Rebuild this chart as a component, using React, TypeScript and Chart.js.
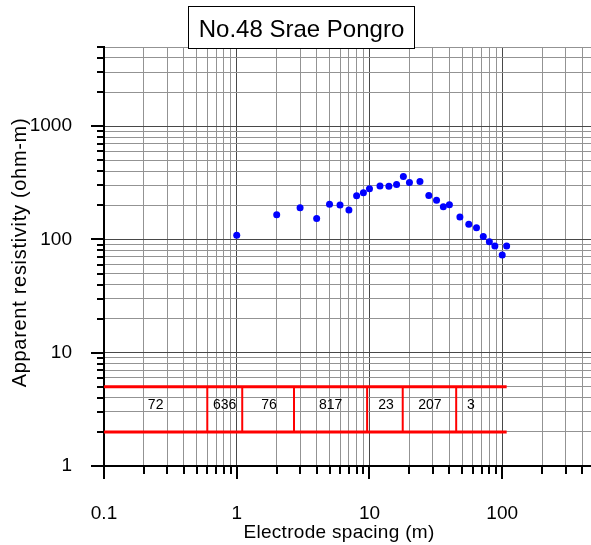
import { useEffect, useRef } from 'react';
import { Chart, registerables } from 'chart.js';

Chart.register(...registerables);

// Sounding curve: electrode spacing (m) vs apparent resistivity (ohm-m)
const spacing = [1, 2, 3, 4, 5, 6, 7, 8, 9, 10, 12, 14, 16, 18, 20, 24, 28, 32, 36, 40, 48, 56, 64, 72, 80, 88, 100, 108];
const resistivity = [109, 165, 190, 153, 205, 201, 182, 243, 259, 280, 297, 295, 305, 359, 318, 324, 244, 222, 194, 202, 158, 136, 127, 106, 95.4, 87.5, 72.9, 87.5];

// Interpreted layer model
const layerBoundaries = [0.6, 1.1, 2.7, 9.6, 17.8, 45];
const layerResistivity = [72, 636, 76, 817, 23, 207, 3];
const layerLabelAt = [0.245, 0.81, 1.75, 5.1, 13.3, 28.5, 58];
const modelStart = 0.1;
const modelEnd = 108;
const modelBand = [2, 5];
const layerLabelLevel = 3.16;

// Axes
const xMin = 0.1;
const xMax = 500;
const yMin = 1;
const yMax = 5000;
const xLabels = ['0.1', '1', '10', '100'];
const yLabels = ['1', '10', '100', '1000'];

const chartTitle = 'No.48 Srae Pongro';
const xTitle = 'Electrode spacing (m)';
const yTitle = 'Apparent resistivity (ohm-m)';

const FONT = '"Liberation Sans", Arial, sans-serif';

function logTicks(min: number, max: number): number[] {
  const out: number[] = [];
  const lo = Math.floor(Math.log10(min));
  const hi = Math.ceil(Math.log10(max));
  for (let e = lo; e <= hi; e++) {
    for (let m = 1; m <= 9; m++) {
      const v = parseFloat((m * Math.pow(10, e)).toPrecision(6));
      if (v >= min * 0.999999 && v <= max * 1.000001) out.push(v);
    }
  }
  return out;
}

const isDecade = (v: number) => Math.abs(Math.log10(v) - Math.round(Math.log10(v))) < 1e-9;

const xTicks = logTicks(xMin, xMax);
const yTicks = logTicks(yMin, yMax);

const MAJOR_GRID = '#484848';
const MINOR_GRID = '#939393';

const decorations = {
  id: 'decorations',
  afterDraw(chart: any) {
    const { ctx, chartArea } = chart;
    const x = chart.scales.x;
    const y = chart.scales.y;
    ctx.save();

    // outward tick marks
    ctx.strokeStyle = '#000';
    ctx.lineWidth = 2;
    for (const v of xTicks) {
      const px = Math.round(x.getPixelForValue(v));
      const len = isDecade(v) ? 13 : 8;
      ctx.beginPath();
      ctx.moveTo(px, chartArea.bottom);
      ctx.lineTo(px, chartArea.bottom + len);
      ctx.stroke();
    }
    for (const v of yTicks) {
      const py = Math.round(y.getPixelForValue(v));
      const len = isDecade(v) ? 13 : 7;
      ctx.beginPath();
      ctx.moveTo(chartArea.left, py);
      ctx.lineTo(chartArea.left - len, py);
      ctx.stroke();
    }

    // layer resistivity labels
    ctx.fillStyle = '#000';
    ctx.font = `14px ${FONT}`;
    ctx.textAlign = 'center';
    ctx.textBaseline = 'alphabetic';
    const ly = y.getPixelForValue(layerLabelLevel);
    layerResistivity.forEach((r, i) => {
      ctx.fillText(String(r), x.getPixelForValue(layerLabelAt[i]), ly);
    });

    // axis titles
    ctx.font = `19px ${FONT}`;
    (ctx as any).letterSpacing = '0.3px';
    ctx.fillText(xTitle, chartArea.left + 235, chartArea.bottom + 72);

    ctx.save();
    ctx.font = `20px ${FONT}`;
    (ctx as any).letterSpacing = '0.7px';
    ctx.translate(chartArea.left - 78, (chartArea.top + chartArea.bottom) / 2 - 4);
    ctx.rotate(-Math.PI / 2);
    ctx.fillText(yTitle, 0, 0);
    ctx.restore();

    // title box
    (ctx as any).letterSpacing = '0px';
    const bx = chartArea.left + 84.5;
    const by = 6.5;
    const bw = 226;
    const bh = 42;
    ctx.fillStyle = '#fff';
    ctx.fillRect(bx, by, bw, bh);
    ctx.strokeStyle = '#000';
    ctx.lineWidth = 1;
    ctx.strokeRect(bx, by, bw, bh);
    ctx.fillStyle = '#000';
    ctx.font = `24px ${FONT}`;
    ctx.fillText(chartTitle, bx + bw / 2, 37);

    ctx.restore();
  },
};

export default function App() {
  const ref = useRef<HTMLCanvasElement>(null);

  useEffect(() => {
    if (!ref.current) return;

    const redLine = (data: { x: number; y: number }[], width: number) => ({
      type: 'line' as const,
      data,
      showLine: true,
      borderColor: '#ff0000',
      borderWidth: width,
      pointRadius: 0,
      pointHoverRadius: 0,
      fill: false,
      tension: 0,
    });

    const datasets: any[] = [
      ...modelBand.map((level) => redLine([{ x: modelStart, y: level }, { x: modelEnd, y: level }], 3)),
      ...layerBoundaries.map((b) => redLine([{ x: b, y: modelBand[0] }, { x: b, y: modelBand[1] }], 2)),
      {
        type: 'scatter' as const,
        data: spacing.map((s, i) => ({ x: s, y: resistivity[i] })),
        backgroundColor: '#0000ff',
        borderColor: '#0000ff',
        borderWidth: 0,
        pointRadius: 3.5,
        pointHoverRadius: 3.5,
        showLine: false,
      },
    ];

    const grid = {
      color: (c: any) => (c.tick && isDecade(c.tick.value) ? MAJOR_GRID : MINOR_GRID),
      lineWidth: 1,
      drawTicks: false,
    };

    const chart = new Chart(ref.current, {
      type: 'scatter',
      data: { datasets },
      options: {
        responsive: false,
        maintainAspectRatio: false,
        animation: false,
        devicePixelRatio: 1,
        layout: { padding: { top: 47, right: 5, bottom: 0, left: 0 } },
        plugins: {
          legend: { display: false },
          tooltip: { enabled: false },
          title: { display: false },
        },
        scales: {
          x: {
            type: 'logarithmic',
            position: 'bottom',
            min: xMin,
            max: xMax,
            afterBuildTicks: (s: any) => {
              s.ticks = xTicks.map((v) => ({ value: v }));
            },
            afterFit: (s: any) => {
              s.height = 79;
              s.paddingLeft = 0;
              s.paddingRight = 0;
            },
            ticks: {
              autoSkip: false,
              maxRotation: 0,
              minRotation: 0,
              padding: 36,
              color: '#000',
              font: { family: FONT, size: 19 },
              callback: (v: any) => (xLabels.includes(String(v)) ? String(v) : ''),
            },
            grid,
            border: { display: true, color: '#000', width: 2 },
          },
          y: {
            type: 'logarithmic',
            position: 'left',
            min: yMin,
            max: yMax,
            afterBuildTicks: (s: any) => {
              s.ticks = yTicks.map((v) => ({ value: v }));
            },
            afterFit: (s: any) => {
              s.width = 104;
              s.paddingTop = 0;
              s.paddingBottom = 0;
            },
            ticks: {
              autoSkip: false,
              padding: 32,
              color: '#000',
              font: { family: FONT, size: 19 },
              callback: (v: any) => (yLabels.includes(String(v)) ? String(v) : ''),
            },
            grid,
            border: { display: true, color: '#000', width: 2 },
          },
        },
      },
      plugins: [decorations],
    });

    return () => chart.destroy();
  }, []);

  return (
    <div
      style={{
        position: 'absolute',
        left: 0,
        top: 0,
        width: 591,
        height: 545,
        overflow: 'hidden',
        background: '#fff',
      }}
    >
      <canvas ref={ref} width={600} height={545} style={{ display: 'block', width: 600, height: 545 }} />
    </div>
  );
}
